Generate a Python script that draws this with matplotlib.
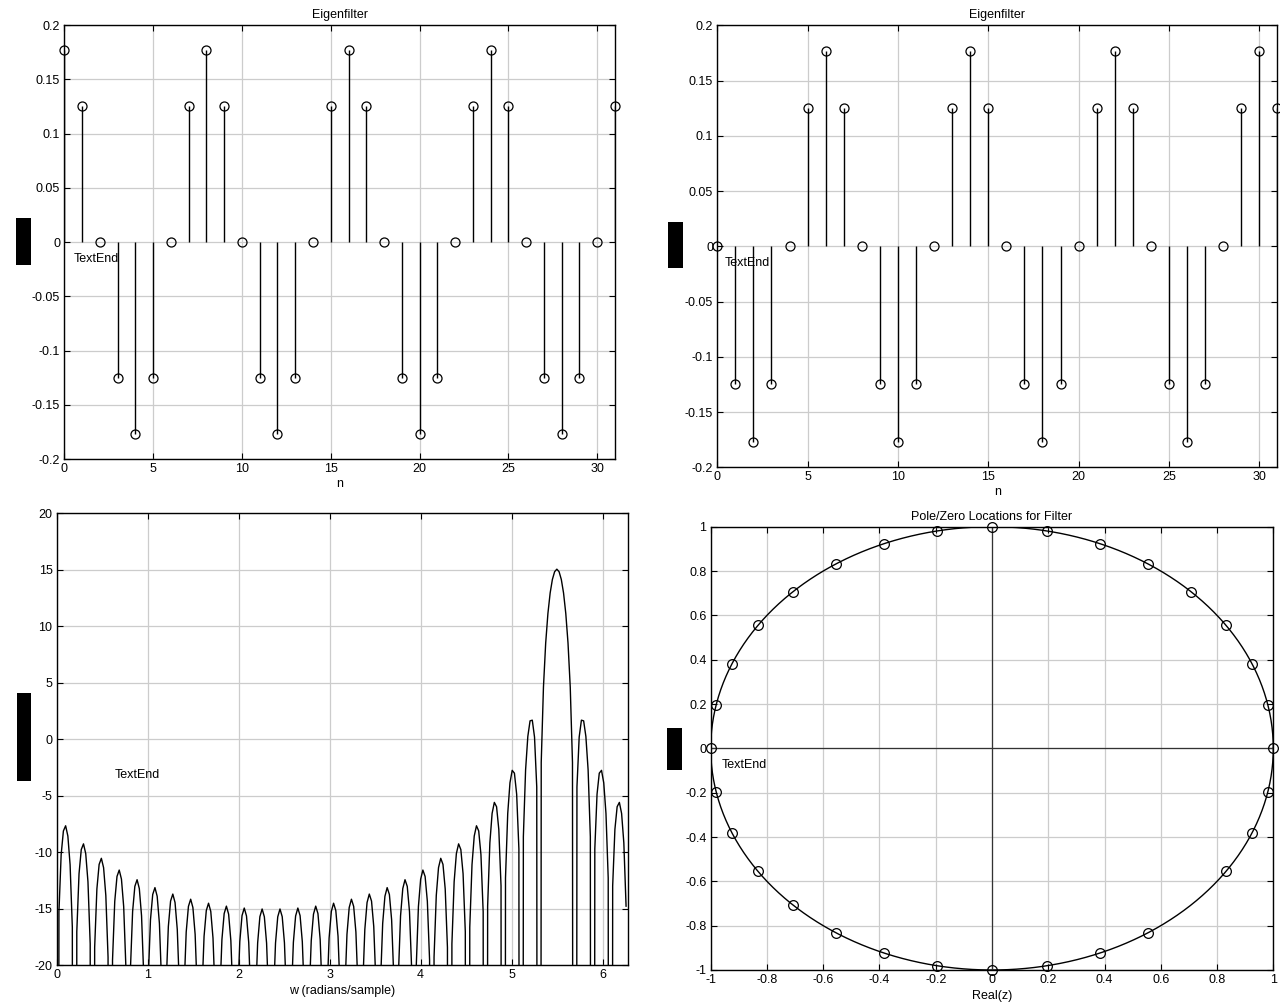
import numpy as np
import matplotlib
matplotlib.use("Agg")
import matplotlib.pyplot as plt
from matplotlib.patches import Rectangle

plt.rcParams['font.family'] = ['Liberation Sans', 'DejaVu Sans']
plt.rcParams['axes.unicode_minus'] = False

# eigenfilter coefficients, real and imaginary parts
n = np.arange(32)
eig_re = [0.1768, 0.125, 0, -0.125, -0.1768, -0.125, 0, 0.125,
          0.1768, 0.125, 0, -0.125, -0.1768, -0.125, 0, 0.125,
          0.1768, 0.125, 0, -0.125, -0.1768, -0.125, 0, 0.125,
          0.1768, 0.125, 0, -0.125, -0.1768, -0.125, 0, 0.125]
eig_im = [0, -0.125, -0.1768, -0.125, 0, 0.125, 0.1768, 0.125,
          0, -0.125, -0.1768, -0.125, 0, 0.125, 0.1768, 0.125,
          0, -0.125, -0.1768, -0.125, 0, 0.125, 0.1768, 0.125,
          0, -0.125, -0.1768, -0.125, 0, 0.125, 0.1768, 0.125]
n_freq = 256

h = np.array(eig_re) + 1j * np.array(eig_im)
H = np.fft.fft(h, n_freq)
w = 2 * np.pi * np.arange(n_freq) / n_freq
mag_db = 20 * np.log10(np.maximum(np.abs(H), 1e-12))
zeros = np.roots(h)

W, HH = 1280, 1006
FS = 9


def px_axes(fig, x0, y0, x1, y1):
    return fig.add_axes([x0 / W, 1 - y1 / HH, (x1 - x0) / W, (y1 - y0) / HH])


def style(ax):
    ax.tick_params(direction='in', top=True, right=True, length=4, width=0.8,
                   labelsize=FS, pad=3)
    ax.grid(True, color='#cccccc', lw=0.9)
    ax.set_axisbelow(True)
    for s in ax.spines.values():
        s.set_linewidth(1.0)


def fmt(v):
    return '%g' % round(v, 4) if abs(v) > 1e-9 else '0'


def stem_plot(ax, vals):
    ml, sl, bl = ax.stem(n, vals, linefmt='k-', markerfmt='ko', basefmt=' ')
    ml.set_markerfacecolor('none')
    ml.set_markersize(6.5)
    ml.set_markeredgewidth(0.9)
    ml.set_clip_on(False)
    sl.set_linewidth(1.0)
    ax.set_xlim(0, 31)
    ax.set_ylim(-0.2, 0.2)
    yt = np.arange(-0.2, 0.2001, 0.05)
    ax.set_yticks(yt)
    ax.set_yticklabels([fmt(v) for v in yt])
    ax.set_xticks(np.arange(0, 31, 5))
    ax.set_title('Eigenfilter', fontsize=FS, pad=5)
    ax.set_xlabel('n', fontsize=FS, labelpad=2)
    style(ax)


fig = plt.figure(figsize=(12.8, 10.06), dpi=100)

ax1 = px_axes(fig, 64.3, 25, 615, 459)
stem_plot(ax1, eig_re)

ax2 = px_axes(fig, 717.3, 25.3, 1277.3, 467.3)
stem_plot(ax2, eig_im)

ax3 = px_axes(fig, 56.7, 513.3, 628.3, 965)
ax3.plot(w, mag_db, color='k', lw=1.0)
ax3.set_xlim(0, 2 * np.pi)
ax3.set_ylim(-20, 20)
ax3.set_yticks(np.arange(-20, 21, 5))
ax3.set_xticks(np.arange(0, 7, 1))
ax3.set_xlabel('w (radians/sample)', fontsize=FS, labelpad=3)
style(ax3)

ax4 = px_axes(fig, 710.7, 526.7, 1273.3, 970)
theta = np.linspace(0, 2 * np.pi, 200)
ax4.plot(np.cos(theta), np.sin(theta), color='k', lw=1.0)
ax4.axhline(0, color='#333333', lw=0.9)
ax4.axvline(0, color='#333333', lw=0.9)
ax4.plot(zeros.real, zeros.imag, 'o', mfc='none', mec='k', ms=7, mew=0.9,
         clip_on=False)
ax4.set_xlim(-1, 1)
ax4.set_ylim(-1, 1)
t4 = np.arange(-1, 1.001, 0.2)
ax4.set_xticks(t4)
ax4.set_xticklabels([fmt(v) for v in t4])
ax4.set_yticks(t4)
ax4.set_yticklabels([fmt(v) for v in t4])
ax4.set_title('Pole/Zero Locations for Filter', fontsize=FS, pad=5)
ax4.set_xlabel('Real(z)', fontsize=FS, labelpad=3)
style(ax4)

# black boxes in place of the y labels
for x0, y0, x1, y1 in [(16, 218, 30.7, 265), (668, 222, 683, 268),
                       (16.7, 693, 31, 781), (667, 728, 682, 770)]:
    fig.add_artist(Rectangle((x0 / W, 1 - y1 / HH), (x1 - x0) / W, (y1 - y0) / HH,
                             transform=fig.transFigure, color='k', lw=0))

for x, y in [(74, 259), (725, 263), (115, 775), (722, 765)]:
    fig.text(x / W, 1 - y / HH, 'TextEnd', fontsize=FS, ha='left', va='center')

fig.savefig('out.png', dpi=100)
